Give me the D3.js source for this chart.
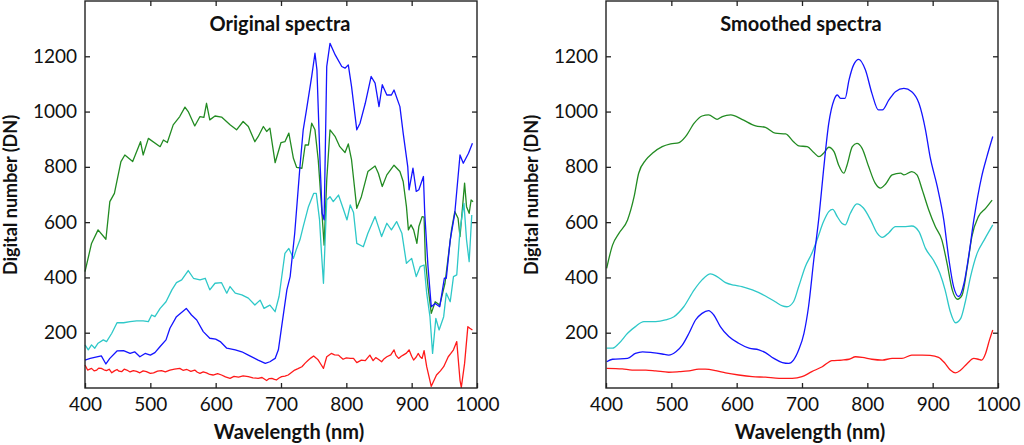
<!DOCTYPE html>
<html>
<head>
<meta charset="utf-8">
<script src="https://cdn.jsdelivr.net/npm/d3@7"></script>
<style>
  body { margin: 0; background: #fff; }
  svg { display: block; font-family: Lato, "Open Sans", sans-serif; }
</style>
</head>
<body>
<div class="box"></div>
<script>
// wavelength (nm), digital number (DN)
const origGreen = [[400,421],[410,523],[420,572],[432,538],[438,674],[445,704],[455,819],[461,843],[473,819],[482,873],[485,891],[489,843],[497,903],[515,873],[520,897],[526,888],[535,952],[545,982],[553,1016],[558,1000],[568,948],[576,982],[582,979],[586,1030],[591,970],[599,984],[609,980],[622,952],[632,934],[642,964],[650,946],[660,891],[665,909],[673,946],[678,928],[683,940],[691,815],[700,888],[706,891],[712,922],[719,831],[724,798],[732,795],[737,879],[742,879],[747,958],[752,934],[757,825],[762,656],[766,517],[770,753],[775,934],[783,909],[790,873],[798,852],[803,883],[808,825],[816,650],[823,692],[833,783],[844,803],[849,777],[855,729],[862,771],[873,806],[882,783],[887,747],[892,656],[895,572],[899,590],[903,572],[908,523],[911,584],[916,620],[919,618],[921,463],[925,367],[930,270],[936,312],[943,300],[951,379],[956,475],[961,572],[966,638],[971,614],[974,548],[981,741],[984,656],[988,632],[991,680],[994,674]];
const origBlue = [[400,101],[408,107],[425,116],[432,87],[438,107],[449,134],[459,135],[469,125],[476,131],[484,113],[492,125],[500,119],[507,128],[515,150],[524,174],[530,216],[540,258],[555,288],[563,264],[571,246],[581,204],[591,180],[600,177],[607,168],[617,144],[630,138],[640,131],[650,119],[665,101],[676,89],[683,95],[691,107],[696,138],[701,222],[709,355],[714,403],[721,560],[729,801],[734,934],[739,1006],[747,1127],[752,1211],[755,1151],[760,801],[763,632],[766,608],[770,1163],[775,1247],[783,1205],[793,1163],[798,1157],[803,1169],[808,1090],[816,934],[821,958],[829,1030],[838,1127],[844,1103],[850,1018],[855,1097],[862,1060],[869,1060],[873,1078],[882,1018],[887,922],[894,801],[896,717],[902,795],[907,711],[911,717],[918,765],[920,632],[925,439],[930,294],[936,306],[943,294],[950,397],[953,397],[959,535],[966,632],[974,843],[979,813],[987,849],[993,885]];
const origCyan = [[400,156],[405,138],[410,156],[415,144],[420,162],[428,174],[433,168],[441,198],[449,236],[459,236],[469,240],[479,243],[489,243],[497,240],[502,264],[507,258],[515,288],[524,312],[533,355],[540,381],[548,391],[558,425],[566,397],[576,391],[584,397],[591,355],[599,379],[609,381],[617,343],[622,367],[630,343],[640,337],[650,325],[660,300],[668,318],[674,288],[683,300],[691,276],[697,331],[706,487],[712,505],[719,469],[724,505],[729,536],[734,584],[742,656],[750,704],[754,704],[759,608],[762,487],[765,379],[770,680],[775,692],[780,674],[788,698],[795,650],[801,608],[806,662],[811,635],[816,523],[826,511],[833,560],[844,620],[854,548],[862,596],[869,572],[877,602],[885,560],[892,451],[900,469],[907,403],[913,439],[919,445],[923,343],[928,258],[932,125],[937,252],[942,210],[949,258],[953,343],[959,312],[964,403],[969,409],[974,572],[980,668],[984,536],[988,457],[992,626]];
const origRed = [[400,83],[404,65],[410,71],[414,62],[418,65],[421,72],[425,71],[429,66],[433,63],[437,68],[441,55],[445,62],[449,67],[452,61],[456,59],[460,68],[464,65],[469,58],[474,63],[479,60],[484,55],[489,62],[494,59],[500,53],[505,55],[511,61],[517,63],[523,58],[530,65],[537,68],[545,71],[550,64],[556,67],[562,60],[568,65],[572,57],[576,53],[581,58],[586,55],[591,49],[596,47],[603,52],[609,47],[615,40],[622,35],[628,42],[635,39],[642,44],[650,41],[657,37],[665,35],[671,38],[678,27],[682,34],[686,35],[690,31],[693,29],[697,36],[701,41],[706,43],[711,47],[716,56],[721,65],[726,70],[732,77],[737,90],[742,101],[746,109],[750,116],[754,108],[757,101],[761,86],[765,71],[770,113],[777,125],[782,120],[788,119],[791,112],[795,104],[800,109],[806,107],[811,107],[816,92],[823,101],[829,99],[836,119],[841,99],[845,110],[849,104],[854,95],[858,106],[862,113],[868,120],[873,138],[876,118],[880,107],[884,115],[887,119],[892,126],[896,138],[900,115],[903,101],[907,112],[910,125],[913,113],[916,107],[919,135],[923,77],[930,6],[938,47],[944,62],[949,77],[956,113],[960,125],[964,138],[969,168],[974,28],[976,2],[981,89],[986,222],[989,216],[993,210]];

const smoothGreen = [[401,433],[410,517],[420,560],[433,608],[443,692],[450,777],[461,825],[471,849],[486,873],[499,883],[512,888],[522,910],[535,958],[547,984],[557,988],[570,972],[578,982],[591,988],[608,972],[629,948],[644,943],[659,922],[675,919],[687,891],[695,876],[708,873],[718,852],[726,837],[733,849],[741,871],[749,855],[756,807],[764,777],[769,807],[777,873],[784,885],[792,867],[802,801],[812,741],[820,723],[828,738],[838,771],[851,777],[856,771],[868,783],[876,771],[884,717],[894,644],[904,584],[914,536],[922,451],[930,355],[938,321],[945,336],[953,439],[960,548],[970,620],[981,650],[991,680]];
const smoothBlue = [[401,95],[410,104],[433,107],[445,125],[456,131],[471,128],[486,123],[496,119],[507,131],[517,156],[527,198],[537,246],[547,270],[557,280],[565,264],[575,222],[588,186],[603,162],[619,144],[634,138],[644,128],[657,107],[670,92],[680,89],[687,101],[695,138],[703,198],[710,294],[718,463],[726,620],[733,789],[741,958],[749,1042],[754,1060],[759,1048],[766,1048],[772,1115],[779,1169],[787,1189],[797,1151],[807,1066],[817,1006],[823,1006],[833,1042],[843,1072],[856,1084],[868,1072],[879,1030],[889,934],[896,837],[907,729],[917,608],[925,463],[932,367],[940,331],[948,379],[955,475],[963,608],[975,765],[983,837],[992,910]];
const smoothCyan = [[401,144],[410,144],[420,162],[433,198],[445,222],[458,240],[476,240],[491,246],[504,258],[519,294],[535,355],[547,391],[560,413],[570,403],[583,381],[596,372],[608,367],[624,355],[644,333],[659,312],[670,297],[677,294],[687,312],[695,367],[705,439],[715,487],[723,536],[733,602],[741,638],[747,646],[754,620],[761,596],[766,590],[774,632],[784,666],[794,651],[805,608],[815,560],[823,545],[833,562],[843,584],[856,584],[868,586],[879,566],[889,505],[901,463],[911,415],[919,355],[927,276],[935,236],[943,252],[950,312],[958,403],[968,487],[979,536],[992,590]];
const smoothRed = [[401,71],[425,69],[440,65],[461,65],[476,62],[496,57],[512,59],[527,62],[542,68],[552,68],[568,63],[583,55],[603,47],[624,41],[644,39],[665,35],[685,35],[700,41],[715,59],[731,77],[746,99],[761,101],[772,104],[782,113],[792,111],[807,104],[823,101],[838,107],[853,107],[868,119],[884,119],[896,118],[909,111],[919,89],[927,65],[935,55],[943,65],[953,89],[963,107],[970,104],[975,101],[981,125],[987,174],[992,210]];

const panelTitles = ["Original spectra", "Smoothed spectra"];
const xTicks = [400, 500, 600, 700, 800, 900, 1000];
const yTicks = [200, 400, 600, 800, 1000, 1200];
const xLabel = "Wavelength (nm)";
const yLabel = "Digital number (DN)";

const colors = { green: "#228b22", blue: "#1414ff", cyan: "#2ec8c8", red: "#ff1a1a" };

const width = 1024, height = 445;
const panels = [
  { left: 85, title: panelTitles[0], curve: d3.curveLinear,
    series: [["green", origGreen], ["cyan", origCyan], ["blue", origBlue], ["red", origRed]] },
  { left: 606, title: panelTitles[1], curve: d3.curveMonotoneX,
    series: [["green", smoothGreen], ["cyan", smoothCyan], ["blue", smoothBlue], ["red", smoothRed]] }
];
const plotW = 392, plotTop = 1, plotBottom = 388;
const fmt = d3.format("d");

const svg = d3.create("svg").attr("width", width).attr("height", height);

panels.forEach(function (p) {
  const x = d3.scaleLinear([400, 1000], [p.left, p.left + plotW]);
  const y = d3.scaleLinear([0, 1400], [plotBottom, plotTop]);
  const g = svg.append("g");

  const line = d3.line().x(d => x(d[0])).y(d => y(d[1])).curve(p.curve);
  g.append("g")
    .attr("fill", "none")
    .attr("stroke-width", 1.3)
    .attr("stroke-linejoin", "round")
    .selectAll("path")
    .data(p.series)
    .join("path")
    .attr("stroke", d => colors[d[0]])
    .attr("d", d => line(d[1]));

  // ticks on all four sides, pointing in
  const frame = a => a.call(s => s.select(".domain").remove())
    .call(s => s.selectAll(".tick line").attr("stroke", "#222").attr("stroke-width", 1.3));
  g.append("g").attr("transform", `translate(0,${plotBottom})`)
    .call(d3.axisBottom(x).tickValues(xTicks).tickFormat(fmt).tickSizeInner(-5).tickSizeOuter(0).tickPadding(10))
    .call(frame)
    .call(a => a.selectAll("text").attr("font-size", 19).attr("fill", "#111").attr("font-family", "Lato"));
  g.append("g").attr("transform", `translate(0,${plotTop})`)
    .call(d3.axisTop(x).tickValues(xTicks.slice(1, -1)).tickSizeInner(-5).tickSizeOuter(0).tickFormat(""))
    .call(frame);
  g.append("g").attr("transform", `translate(${p.left},0)`)
    .call(d3.axisLeft(y).tickValues(yTicks).tickFormat(fmt).tickSizeInner(-5).tickSizeOuter(0).tickPadding(8))
    .call(frame)
    .call(a => a.selectAll("text").attr("font-size", 19).attr("fill", "#111").attr("font-family", "Lato"));
  g.append("g").attr("transform", `translate(${p.left + plotW},0)`)
    .call(d3.axisRight(y).tickValues(yTicks).tickSizeInner(-5).tickSizeOuter(0).tickFormat(""))
    .call(frame);

  g.append("rect")
    .attr("x", p.left).attr("y", plotTop)
    .attr("width", plotW).attr("height", plotBottom - plotTop)
    .attr("fill", "none").attr("stroke", "#222").attr("stroke-width", 1.4);

  g.append("text")
    .attr("x", p.left + plotW / 2 - 1).attr("y", 31)
    .attr("text-anchor", "middle").attr("font-weight", "bold").attr("font-size", 20)
    .attr("fill", "#111")
    .text(p.title);

  g.append("text")
    .attr("x", p.left + plotW / 2 + 8).attr("y", 439)
    .attr("text-anchor", "middle").attr("font-weight", "bold").attr("font-size", 20)
    .attr("fill", "#111")
    .text(xLabel);

  g.append("text")
    .attr("transform", `translate(${p.left - 68},195) rotate(-90)`)
    .attr("text-anchor", "middle").attr("font-weight", "bold").attr("font-size", 18)
    .attr("fill", "#111")
    .text(yLabel);
});

document.querySelector(".box").appendChild(svg.node());
</script>
</body>
</html>
